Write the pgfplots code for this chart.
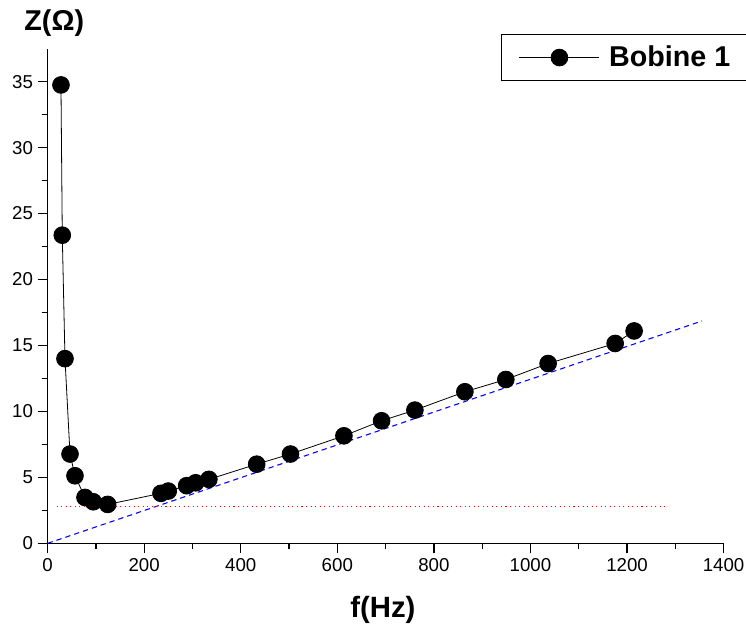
\documentclass[border=0pt]{standalone}
\usepackage{pgfplots}
\pgfplotsset{compat=1.18}
\usepackage{fontspec}
\setmainfont{Liberation Sans}

% measured impedance of the coil vs frequency
\pgfplotstableread{
f Z
27.7 34.75
30.4 23.36
36.0 14.00
46.4 6.77
56.7 5.12
77.4 3.48
94.6 3.15
124.4 2.95
234.8 3.79
249.9 3.96
288.0 4.37
306.6 4.59
334.0 4.85
433.0 6.00
503.0 6.77
613.7 8.15
691.7 9.29
760.7 10.10
864.2 11.49
949.0 12.42
1036.6 13.63
1175.4 15.15
1214.7 16.10
}\bobine

\begin{document}
\begin{tikzpicture}
\useasboundingbox (-35.7pt,-65pt) rectangle (523.8pt,407.5pt);
\begin{axis}[
  scale only axis,
  width=507pt, height=371pt,
  xmin=0, xmax=1400, ymin=0, ymax=37.5,
  axis x line*=bottom, axis y line*=left,
  axis line style={line width=1pt},
  xtick={0,200,...,1400}, ytick={0,5,...,35},
  minor x tick num=1, minor y tick num=1,
  tick align=outside,
  major tick length=7.5pt, minor tick length=4.5pt,
  every tick/.style={black, line width=1pt},
  tick label style={font=\fontsize{14}{16}\selectfont},
  /pgf/number format/assume math mode=true,
  /pgf/number format/1000 sep={},
  clip=false,
  legend style={at={(rel axis cs:0.670,1.029)}, anchor=north west,
    draw=black, line width=0.8pt, font=\fontsize{21.5}{24}\selectfont\bfseries,
    inner xsep=13.5pt, inner ysep=6.5pt,
    /tikz/every odd column/.append style={column sep=5pt}},
  legend image code/.code={%
    \draw[mark repeat=2,mark phase=2,#1] plot coordinates {(0pt,0pt) (30pt,0pt) (60pt,0pt)};},
]
\addplot[black, line width=0.6pt, mark=*, mark size=6.3pt, mark options={fill=black}]
  table[x=f, y=Z] {\bobine};
\addlegendentry{Bobine 1}
% inductive asymptote
\addplot[blue, line width=0.8pt, dash pattern=on 4pt off 3pt, forget plot]
  coordinates {(0,0) (1355.5,16.86)};
% resistive floor
\addplot[red, line width=0.8pt, dash pattern=on 0.8pt off 2.6pt, forget plot]
  coordinates {(18.8,2.77) (1281.8,2.77)};
\end{axis}
\node[font=\fontsize{21.5}{24}\selectfont\bfseries] at (5pt,390.2pt) {Z(Ω)};
\node[font=\fontsize{22}{25}\selectfont\bfseries] at (251.5pt,-50pt) {f(Hz)};
\end{tikzpicture}
\end{document}
